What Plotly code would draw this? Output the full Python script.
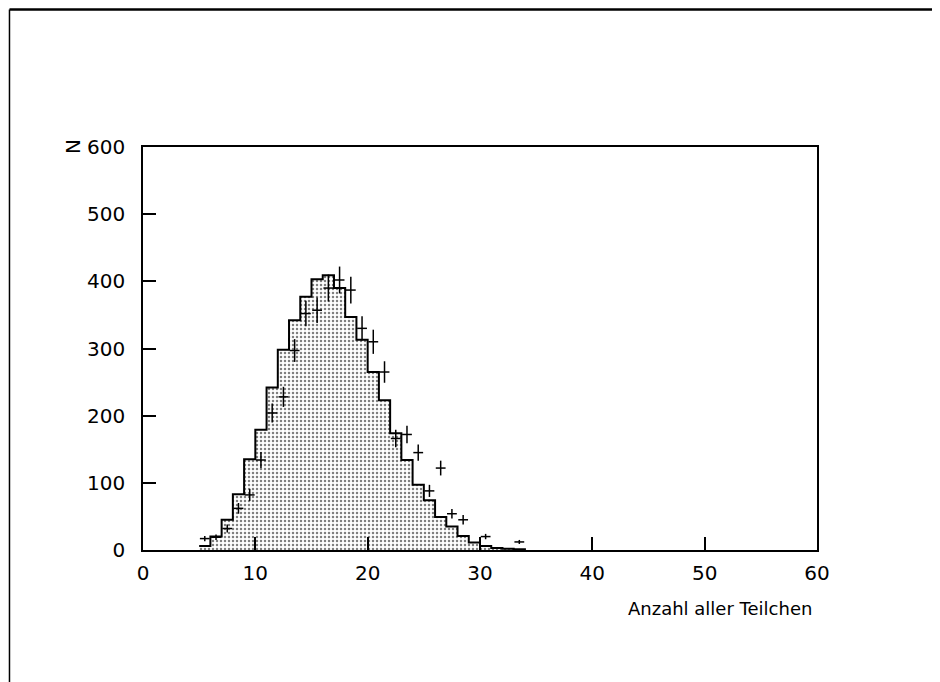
import plotly.graph_objects as go

# Histogram (simulation): bin lower edges and counts, bin width 1
bin_left = [5, 6, 7, 8, 9, 10, 11, 12, 13, 14, 15, 16, 17, 18, 19, 20, 21, 22,
            23, 24, 25, 26, 27, 28, 29, 30, 31, 32, 33]
bin_counts = [6, 20, 45, 83, 135, 179, 242, 298, 342, 377, 403, 409, 390, 347,
              313, 265, 223, 174, 134, 97, 74, 49, 35, 21, 11, 6, 3, 2, 1]

# Data points with errors
data_x = [5.5, 6.5, 7.5, 8.5, 9.5, 10.5, 11.5, 12.5, 13.5, 14.5, 15.5, 16.5,
          17.5, 18.5, 19.5, 20.5, 21.5, 22.5, 23.5, 24.5, 25.5, 26.5, 27.5,
          28.5, 30.5, 33.5]
data_y = [17, 19, 32, 62, 82, 134, 204, 228, 297, 352, 357, 390,
          402, 387, 330, 310, 265, 166, 172, 145, 88, 122, 54,
          45, 20, 12]
data_err = [4, 4, 6, 8, 9, 12, 14, 15, 17, 19, 19, 20,
            20, 20, 18, 18, 16, 13, 13, 12, 9, 11, 7,
            7, 4, 3]

x_ticks = [0, 10, 20, 30, 40, 50, 60]
y_ticks = [0, 100, 200, 300, 400, 500, 600]
x_title = "Anzahl aller Teilchen"
y_title = "N"

bar_centers = [b + 0.5 for b in bin_left]
step_x = bin_left + [bin_left[-1] + 1]
step_y = bin_counts + [0]

fig = go.Figure()
fig.add_trace(go.Bar(
    x=bar_centers, y=bin_counts, width=1,
    marker=dict(color="white", line=dict(width=0),
                pattern=dict(shape=".", fgcolor="black", bgcolor="white",
                             size=4, solidity=0.3)),
    showlegend=False, hoverinfo="skip"))
fig.add_trace(go.Scatter(
    x=step_x, y=step_y, mode="lines", line=dict(color="black", width=2, shape="hv"),
    showlegend=False, hoverinfo="skip"))
fig.add_trace(go.Scatter(
    x=data_x, y=data_y, mode="markers",
    marker=dict(symbol="line-ew", size=7, color="black",
                line=dict(color="black", width=1.5)),
    error_y=dict(type="data", array=data_err, visible=True, color="black",
                 thickness=1.5, width=0),
    showlegend=False))

font = "DejaVu Sans"
fig.update_layout(
    width=932, height=674,
    margin=dict(l=135, r=123, t=139, b=132),
    paper_bgcolor="white", plot_bgcolor="white",
    bargap=0,
    font=dict(family=font, size=20, color="black"),
    xaxis=dict(range=[0, 60], tickvals=x_ticks, ticktext=[str(v) for v in x_ticks],
               showline=True, mirror=True, linecolor="black", linewidth=1.5,
               ticks="inside", ticklen=13, tickwidth=1.5, tickcolor="black",
               showgrid=False, zeroline=False, ticklabelstandoff=4,
               tickfont=dict(family=font, size=20, color="black")),
    yaxis=dict(range=[0, 600], tickvals=y_ticks, ticktext=[str(v) for v in y_ticks],
               showline=True, mirror=True, linecolor="black", linewidth=1.5,
               ticks="inside", ticklen=13, tickwidth=1.5, tickcolor="black",
               showgrid=False, zeroline=False, ticklabelstandoff=12,
               tickfont=dict(family=font, size=20, color="black")),
    annotations=[
        dict(text=x_title, xref="paper", yref="paper", x=1, y=0,
             xanchor="right", yanchor="middle", xshift=-3, yshift=-58,
             showarrow=False, font=dict(family=font, size=18, color="black")),
        dict(text=y_title, xref="paper", yref="paper", x=0, y=1,
             xanchor="center", yanchor="middle", xshift=-70, yshift=0,
             textangle=-90, showarrow=False,
             font=dict(family=font, size=20, color="black")),
    ],
    shapes=[
        dict(type="line", xref="paper", yref="paper", x0=-0.1981, x1=-0.1981,
             y0=-0.34, y1=1.341, line=dict(color="black", width=1.5)),
        dict(type="line", xref="paper", yref="paper", x0=-0.1981, x1=1.19,
             y0=1.341, y1=1.341, line=dict(color="black", width=2.5)),
    ],
)

fig.write_html("out.html")
